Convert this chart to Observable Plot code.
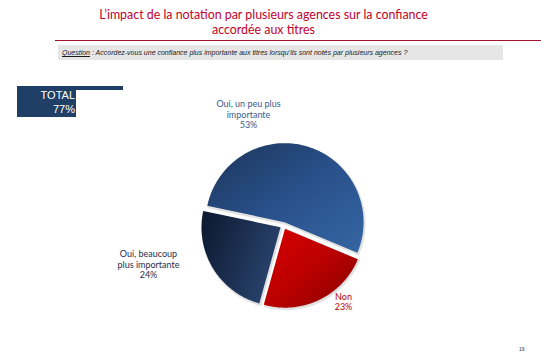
<!DOCTYPE html>
<html><head><meta charset="utf-8">
<script src="https://cdn.jsdelivr.net/npm/d3@7"></script>
<script src="https://cdn.jsdelivr.net/npm/@observablehq/plot@0.6"></script>
<style>
body{margin:0;background:#fff;}
#page{position:relative;width:541px;height:360px;overflow:hidden;font-family:Lato,"Liberation Sans",sans-serif;}
#chart{position:absolute;left:0;top:0;}
#title{position:absolute;left:0;width:527px;top:7px;text-align:center;color:#c4002b;font-size:12.4px;line-height:15px;}
#rule{position:absolute;left:55px;right:0;top:40px;height:1px;background:#a8102e;}
#question{position:absolute;left:58px;top:45px;width:445px;height:15px;background:#e6e6e6;font-style:italic;font-size:7px;line-height:15px;padding-left:4px;box-sizing:border-box;color:#1a1a1a;font-family:"Liberation Sans",sans-serif;white-space:nowrap;}
#question u{text-decoration:underline;}
#totalbar{position:absolute;left:17px;top:86px;width:106px;height:4px;background:#203f66;}
#totalbox{position:absolute;left:17px;top:86px;width:59px;height:31px;background:#203f66;}
#totaltext{position:absolute;right:1px;top:2px;color:#fff;font-family:"Liberation Sans",Arial,sans-serif;font-size:11px;line-height:14px;text-align:right;white-space:nowrap;}
#pagenum{position:absolute;left:519px;top:346px;font-size:5px;color:#333;font-family:"Liberation Sans",sans-serif;}
</style>
</head><body>
<div id="page">
  <div id="chart"></div>
  <div id="title"></div>
  <div id="rule"></div>
  <div id="question"></div>
  <div id="totalbar"></div>
  <div id="totalbox"><div id="totaltext"></div></div>
  <div id="pagenum"></div>
</div>
<script>
// ---- data ----
const titleLines = ["L\u2019impact de la notation par plusieurs agences sur la confiance", "accordée aux titres"];
const questionLabel = "Question";
const questionText = " : Accordez-vous une confiance plus importante aux titres lorsqu\u2019ils sont notés par plusieurs agences ?";
const categories = ["Oui, un peu plus importante", "Non", "Oui, beaucoup plus importante"];
const values = [53, 23, 24];
const labelTexts = ["Oui, un peu plus\nimportante", "Non", "Oui, beaucoup\nplus importante"];
const totalLabel = "TOTAL";
const totalValue = "77%";
const pageNumber = "19";

// ---- layout / style (not data) ----
const R = 79;              // pie radius in px
const cx = 283, cy = 225;  // pie centre in px
const W = 541, H = 360;
const startDeg = -78;
const explodePx = 3.5;
const gradIds = ["gBig", "gNon", "gDark"];
const labelColors = ["#3a5c8c", "#c00000", "#1f2e4e"];
const labelPos = [[-35, -111], [60, 76], [-135, 39]]; // px offsets from centre

// ---- text ----
document.getElementById("title").innerHTML = titleLines.join("<br>");
document.getElementById("question").innerHTML = "<u>" + questionLabel + "</u>" + questionText;
document.getElementById("totaltext").innerHTML = totalLabel + "<br>" + totalValue;
document.getElementById("pagenum").textContent = pageNumber;

// ---- pie geometry ----
const arcs = d3.pie().sort(null)
  .startAngle(startDeg * Math.PI / 180)
  .endAngle(startDeg * Math.PI / 180 + 2 * Math.PI)(values);
const e = explodePx / R;
const pts = [];
arcs.forEach((a, i) => {
  const mid = (a.startAngle + a.endAngle) / 2;
  const ox = e * Math.sin(mid), oy = -e * Math.cos(mid);
  pts.push({k: i, x: ox, y: oy});
  const n = Math.max(8, Math.ceil((a.endAngle - a.startAngle) / (Math.PI / 180)));
  for (let j = 0; j <= n; j++) {
    const t = a.startAngle + (a.endAngle - a.startAngle) * j / n;
    pts.push({k: i, x: ox + Math.sin(t), y: oy - Math.cos(t)});
  }
});
const labels = arcs.map((a, i) => ({
  k: i,
  x: labelPos[i][0] / R,
  y: labelPos[i][1] / R,
  text: labelTexts[i] + "\n" + values[i] + "%"
}));

const marks = [
  Plot.line(pts, {x: "x", y: "y", z: "k", curve: "linear-closed", fill: "#d6d6d6", stroke: "#e2e2e2", strokeWidth: 2, dx: 1, dy: 1.5})
];
arcs.forEach((a, i) => {
  marks.push(Plot.line(pts.filter(p => p.k === i), {x: "x", y: "y", curve: "linear-closed", fill: `url(#${gradIds[i]})`, stroke: "none"}));
});
labels.forEach((l, i) => {
  marks.push(Plot.text([l], {x: "x", y: "y", text: "text", fill: labelColors[i], fontSize: 9, lineHeight: 1.15}));
});

const chart = Plot.plot({
  width: W, height: H,
  margin: 0,
  x: {domain: [-cx / R, (W - cx) / R], range: [0, W], axis: null},
  y: {domain: [-cy / R, (H - cy) / R], range: [0, H], axis: null},
  style: {fontFamily: "Lato, 'Liberation Sans', sans-serif", background: "transparent"},
  marks
});

const defs = d3.select(chart).insert("defs", ":first-child");
function grad(id, x1, y1, x2, y2, stops) {
  const g = defs.append("linearGradient").attr("id", id)
    .attr("x1", x1).attr("y1", y1).attr("x2", x2).attr("y2", y2);
  stops.forEach(([o, c]) => g.append("stop").attr("offset", o).attr("stop-color", c));
}
grad("gBig", 0, 0, 1, 1, [[0, "#1b355a"], [0.5, "#29508a"], [1, "#3566a3"]]);
grad("gNon", 0, 0, 1, 1, [[0, "#d80000"], [0.5, "#bb0000"], [1, "#850000"]]);
grad("gDark", 0, 0.3, 1, 0.7, [[0, "#0f1c34"], [1, "#2b4672"]]);

document.getElementById("chart").appendChild(chart);
</script>
</body></html>
